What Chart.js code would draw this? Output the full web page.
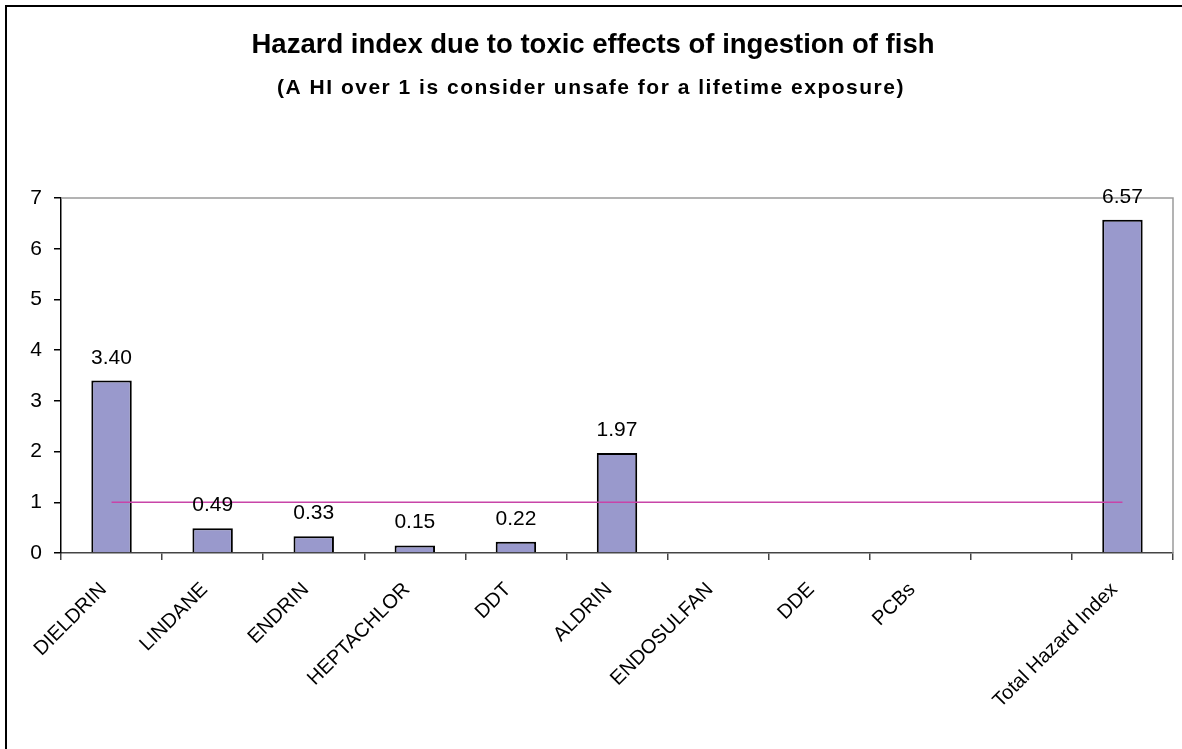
<!DOCTYPE html>
<html>
<head>
<meta charset="utf-8">
<script src="https://cdn.jsdelivr.net/npm/chart.js@4.4.0/dist/chart.umd.min.js"></script>
<style>
  html, body { margin: 0; padding: 0; background: #fff; }
  #wrap { width: 1182px; height: 749px; }
</style>
</head>
<body>
<div id="wrap"><canvas id="chart_hazard" width="1182" height="749"></canvas></div>
<script>
var categories = ['DIELDRIN', 'LINDANE', 'ENDRIN', 'HEPTACHLOR', 'DDT', 'ALDRIN',
    'ENDOSULFAN', 'DDE', 'PCBs', '', 'Total Hazard Index'];
var hazardValues = [3.40, 0.49, 0.33, 0.15, 0.22, 1.97, null, null, null, null, 6.57];
var safeLimit = [1, 1, 1, 1, 1, 1, 1, 1, 1, 1, 1];
var yTicks = [0, 1, 2, 3, 4, 5, 6, 7];

var titleText = 'Hazard index due to toxic effects of ingestion of fish';
var subtitleText = '(A HI over 1 is consider unsafe for a lifetime exposure)';
var fontFamily = '"Liberation Sans", Arial, sans-serif';

// white page, outer frame and the two title lines
var frameAndTitle = {
    id: 'frameAndTitle',
    beforeDraw: function (chart) {
        var ctx = chart.ctx;
        ctx.save();
        ctx.fillStyle = '#fff';
        ctx.fillRect(0, 0, chart.width, chart.height);
        ctx.strokeStyle = '#000';
        ctx.lineWidth = 2;
        ctx.strokeRect(6, 6, 1300, 900);

        ctx.fillStyle = '#000';
        ctx.textAlign = 'center';
        ctx.textBaseline = 'alphabetic';
        ctx.font = 'bold 27.5px ' + fontFamily;
        ctx.fillText(titleText, 593, 53);
        ctx.font = 'bold 21px ' + fontFamily;
        ctx.letterSpacing = '1.5px';
        ctx.fillText(subtitleText, 591, 94);
        ctx.restore();
    },
    // gray border on top and right of the plot area
    afterDatasetsDraw: function (chart) {
        var ctx = chart.ctx, a = chart.chartArea;
        ctx.save();
        ctx.strokeStyle = '#9a9a9a';
        ctx.lineWidth = 1.5;
        ctx.beginPath();
        ctx.moveTo(a.left, a.top);
        ctx.lineTo(a.right, a.top);
        ctx.lineTo(a.right, a.bottom);
        ctx.stroke();
        ctx.restore();
    }
};

// value printed above each bar
var barValues = {
    id: 'barValues',
    afterDatasetsDraw: function (chart) {
        var ctx = chart.ctx;
        var meta = chart.getDatasetMeta(0);
        ctx.save();
        ctx.fillStyle = '#000';
        ctx.font = '21px ' + fontFamily;
        ctx.textAlign = 'center';
        ctx.textBaseline = 'alphabetic';
        meta.data.forEach(function (bar, i) {
            var v = hazardValues[i];
            if (v === null) return;
            ctx.fillText(v.toFixed(2), bar.x, bar.y - 17);
        });
        ctx.restore();
    }
};

var ctx = document.getElementById('chart_hazard').getContext('2d');
var hazardChart = new Chart(ctx, {
    data: {
        labels: categories,
        datasets: [{
            type: 'bar',
            label: 'Hazard index',
            data: hazardValues,
            backgroundColor: '#9999cc',
            borderColor: '#000',
            borderWidth: 2,
            barPercentage: 0.4,
            categoryPercentage: 1,
            order: 2
        }, {
            type: 'line',
            label: 'Safe limit',
            data: safeLimit,
            borderColor: '#c844a8',
            borderWidth: 1.5,
            pointRadius: 0,
            fill: false,
            order: 1
        }]
    },
    options: {
        responsive: false,
        animation: false,
        layout: {
            autoPadding: false,
            padding: { top: 198, right: 9, left: 0, bottom: 0 }
        },
        plugins: {
            legend: { display: false },
            tooltip: { enabled: false },
            title: { display: false }
        },
        scales: {
            x: {
                offset: true,
                grid: { offset: true, drawOnChartArea: false, tickLength: 7, color: '#444', lineWidth: 1.5 },
                border: { color: '#444', width: 1.5 },
                ticks: {
                    autoSkip: false,
                    minRotation: 45,
                    maxRotation: 45,
                    color: '#000',
                    padding: 18,
                    labelOffset: -8,
                    font: { family: fontFamily, size: 20 }
                },
                afterFit: function (scale) { scale.height = 196; }
            },
            y: {
                min: 0,
                max: 7,
                afterBuildTicks: function (scale) {
                    scale.ticks = yTicks.map(function (v) { return { value: v }; });
                },
                grid: { drawOnChartArea: false, tickLength: 7, color: '#000', lineWidth: 1.5 },
                border: { color: '#000', width: 1.5 },
                ticks: {
                    color: '#000',
                    padding: 12,
                    font: { family: fontFamily, size: 21 }
                },
                afterFit: function (scale) { scale.width = 61; }
            }
        }
    },
    plugins: [frameAndTitle, barValues]
});
</script>
</body>
</html>
